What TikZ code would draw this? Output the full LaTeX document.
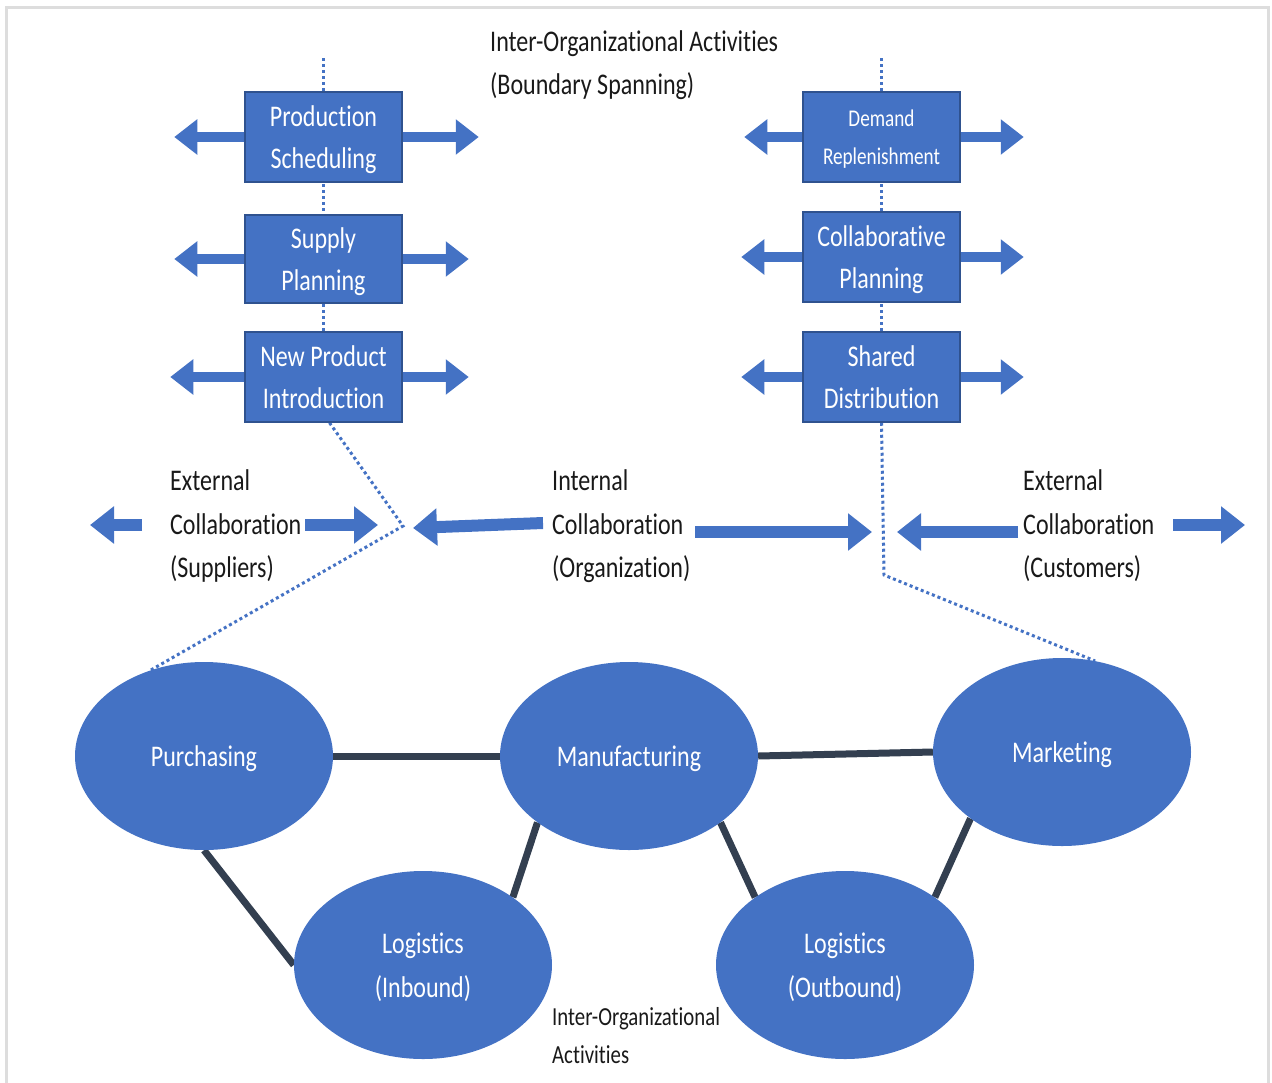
\documentclass[tikz,border=0pt]{standalone}
\usepackage{fontspec}
\setmainfont{Carlito}[FakeStretch=0.8, Ligatures={NoCommon}]
\usetikzlibrary{arrows.meta,shapes.geometric,backgrounds}
\definecolor{boxblue}{HTML}{4472C4}
\definecolor{boxedge}{HTML}{2F528F}
\definecolor{linkgray}{HTML}{333F50}
\definecolor{framegray}{HTML}{DDDDDD}
\begin{document}
\begin{tikzpicture}[x=1pt,y=-1pt,
  activity/.style={draw=boxedge, line width=1.5pt, fill=boxblue, text=white,
    minimum width=157pt, minimum height=90pt, align=center, inner sep=0pt,
    text depth=0pt, font=\fontsize{30}{42}\selectfont},
  unit/.style={ellipse, fill=boxblue, text=white, minimum width=258pt,
    minimum height=188pt, inner sep=0pt, align=center, text depth=0pt,
    font=\fontsize{30}{44}\selectfont},
  caption/.style={align=left, inner sep=0pt, anchor=west, text=black!90,
    text depth=0pt, font=\fontsize{30}{43.5}\selectfont},
  flow/.style={boxblue, line width=10pt, -{Triangle[length=23pt,width=34pt]}},
  wideflow/.style={boxblue, line width=12pt, -{Triangle[length=24pt,width=36pt]}},
  link/.style={linkgray, line width=7pt},
  boundary/.style={boxblue, line width=3pt, dash pattern=on 3pt off 3pt}]

% canvas and frame
\useasboundingbox (0,0) rectangle (1272,1082);
\begin{scope}
  \clip (0,0) rectangle (1272,1082);
  \draw[framegray, line width=3pt] (6.5,7.5) rectangle (1268.5,1100);
\end{scope}

% boundary-spanning activities (left: supplier side)
\node[activity] (ps) at (323.5,137) {Production\\Scheduling};
\node[activity, minimum height=88pt] (sp) at (323.5,259) {Supply\\Planning};
\node[activity] (np) at (323.5,377) {New Product\\Introduction};

% boundary-spanning activities (right: customer side)
\node[activity, font=\fontsize{24}{38}\selectfont] (dr) at (881.5,137) {Demand\\Replenishment};
\node[activity] (cp) at (881.5,257) {Collaborative\\Planning};
\node[activity] (sd) at (881.5,377) {Shared\\Distribution};

% double arrows on the activity boxes
\draw[flow] (ps.west) -- ++(-70,0);
\draw[flow] (ps.east) -- ++(76,0);
\draw[flow] (sp.west) -- ++(-70,0);
\draw[flow] (sp.east) -- ++(66,0);
\draw[flow] (np.west) -- ++(-74,0);
\draw[flow] (np.east) -- ++(66,0);
\draw[flow] (dr.west) -- ++(-58,0);
\draw[flow] (dr.east) -- ++(63,0);
\draw[flow] (cp.west) -- ++(-61,0);
\draw[flow] (cp.east) -- ++(63,0);
\draw[flow] (sd.west) -- ++(-61,0);
\draw[flow] (sd.east) -- ++(63,0);

% heading
\node[caption, font=\fontsize{30}{43}\selectfont] (title) at (490,63)
  {Inter-Organizational Activities\\(Boundary Spanning)};

% collaboration captions
\node[caption] (exs) at (170,524) {External\\Collaboration\\(Suppliers)};
\node[caption] (int) at (552,524) {Internal\\Collaboration\\(Organization)};
\node[caption] (exc) at (1023,524) {External\\Collaboration\\(Customers)};

% collaboration arrows
\coordinate (sa1) at (142,525);
\coordinate (sa2) at (305,525);
\coordinate (ia1) at (543,523);
\coordinate (ia2) at (695,532);
\coordinate (ca1) at (1018,532);
\coordinate (ca2) at (1173,525);
\draw[wideflow] (sa1) -- ++(-52,0);
\draw[wideflow] (sa2) -- ++(73,0);
\draw[wideflow] (ia1) -- ++(-130,5);
\draw[wideflow] (ia2) -- ++(177,0);
\draw[wideflow] (ca1) -- ++(-121,0);
\draw[wideflow] (ca2) -- ++(72,0);

% functional units
\node[unit] (pur) at (204,756) {Purchasing};
\node[unit] (man) at (629,756) {Manufacturing};
\node[unit] (mkt) at (1062,752) {Marketing};
\node[unit] (lin) at (423,965) {Logistics\\(Inbound)};
\node[unit] (lout) at (845,965) {Logistics\\(Outbound)};

% links between units
\begin{scope}[on background layer]
  \draw[link] (pur.east) -- (man.west);
  \draw[link] (man.east) -- (mkt.west);
  \draw[link] (pur.-90) -- (lin.180);
  \draw[link] (man.-144) -- (lin.37);
  \draw[link] (man.-36) -- (lout.143);
  \draw[link] (mkt.-144) -- (lout.37);

  % dotted boundary lines
  \coordinate (topL) at (323.5,58);
  \coordinate (topR) at (881.5,58);
  \coordinate (kneeL) at (403,526);
  \coordinate (kneeR) at (884,575);
  \draw[boundary] (topL) -- (np.center);
  \draw[boundary] ([xshift=6pt]np.south) -- (kneeL) -- (pur.122);
  \draw[boundary] (topR) -- (sd.center);
  \draw[boundary] (sd.south) -- (kneeR) -- (mkt.70);
\end{scope}

% bottom caption
\node[caption, font=\fontsize{26}{38}\selectfont] (io) at (552,1035)
  {Inter-Organizational\\Activities};
\end{tikzpicture}
\end{document}
